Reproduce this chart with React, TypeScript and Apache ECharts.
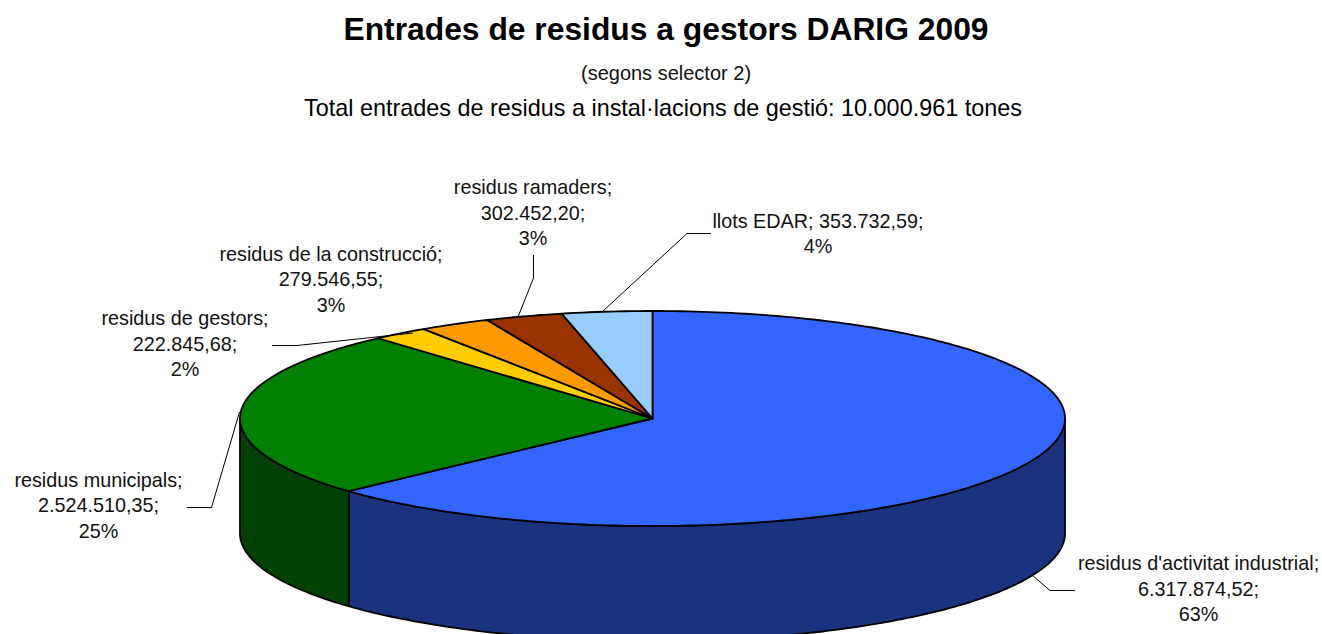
import React, { useEffect, useRef } from "react";
import * as echarts from "echarts";

const categories = [
  "residus d'activitat industrial",
  "residus municipals",
  "residus de gestors",
  "residus de la construcció",
  "residus ramaders",
  "llots EDAR",
];
const values = [6317874.52, 2524510.35, 222845.68, 279546.55, 302452.2, 353732.59];
const valueLabels = ["6.317.874,52", "2.524.510,35", "222.845,68", "279.546,55", "302.452,20", "353.732,59"];
const percentLabels = ["63%", "25%", "2%", "3%", "3%", "4%"];
const topColors = ["#3366FF", "#008000", "#FFCC00", "#FF9900", "#993300", "#99CCFF"];
const sideColors = ["#1A337F", "#004000", "#7F6600", "#7F4C00", "#4C1900", "#4C667F"];

const titleText = "Entrades de residus a gestors DARIG 2009";
const subtitleText = "(segons selector 2)";
const totalText = "Total entrades de residus a instal·lacions de gestió: 10.000.961 tones";

// Layout (not data)
const CX = 652.5;
const CY = 418.5;
const RX = 412.5;
const RY = 107.5;
const DEPTH = 115;
const FONT = '"Liberation Sans", Arial, sans-serif';

const labelCenters = [
  [1198.5, 588.5],
  [98.5, 505],
  [185, 343.5],
  [331, 279],
  [533, 212.5],
  [818, 233.5],
];
const leaders = [
  [[1032, 575], [1050, 590.5], [1075, 590.5]],
  [[239.5, 412], [211.5, 507.5], [187, 507.5]],
  [[413, 333], [297, 345.5], [272, 345.5]],
  null,
  [[518, 317], [533.5, 278], [533.5, 255]],
  [[603, 311], [687, 233.5], [711, 233.5]],
];

const total = values.reduce((a, b) => a + b, 0);
function range(i: number): [number, number] {
  let s = 0;
  for (let k = 0; k < i; k++) s += values[k];
  return [(s / total) * 360, ((s + values[i]) / total) * 360];
}
function pt(deg: number, dy = 0): number[] {
  const t = (deg * Math.PI) / 180;
  return [CX + RX * Math.sin(t), CY - RY * Math.cos(t) + dy];
}
function arc(a: number, b: number, dy = 0): number[][] {
  const out: number[][] = [];
  const n = Math.max(2, Math.ceil(Math.abs(b - a)));
  for (let i = 0; i <= n; i++) out.push(pt(a + ((b - a) * i) / n, dy));
  return out;
}

const edge = { stroke: "#000", lineWidth: 1.8, lineJoin: "round" };

export default function App() {
  const ref = useRef<HTMLDivElement>(null);
  useEffect(() => {
    const chart = echarts.init(ref.current!, undefined, { renderer: "svg" });
    const data = values.map((v, i) => ({ name: categories[i], value: v }));
    const labelGraphics: any[] = [];
    categories.forEach((c, i) => {
      const text =
        i === 5
          ? `${c}; ${valueLabels[i]};\n${percentLabels[i]}`
          : `${c};\n${valueLabels[i]};\n${percentLabels[i]}`;
      labelGraphics.push({
        type: "text",
        x: labelCenters[i][0],
        y: labelCenters[i][1],
        style: {
          text,
          fill: "#111",
          font: `19.8px ${FONT}`,
          lineHeight: 25.5,
          align: "center",
          verticalAlign: "middle",
        },
        z: 10,
      });
      const l = leaders[i];
      if (l) {
        labelGraphics.push({
          type: "polyline",
          shape: { points: l },
          style: { stroke: "#000", lineWidth: 1, fill: "none" },
          z: 9,
        });
      }
    });
    chart.setOption({
      animation: false,
      backgroundColor: "#fff",
      title: [
        { text: titleText, left: 661, top: 8, textAlign: "center",
          textStyle: { fontFamily: FONT, fontSize: 31.8, fontWeight: "bold", color: "#000" } },
        { text: subtitleText, left: 661, top: 58, textAlign: "center",
          textStyle: { fontFamily: FONT, fontSize: 20, fontWeight: "normal", color: "#111" } },
        { text: totalText, left: 658, top: 91.5, textAlign: "center",
          textStyle: { fontFamily: FONT, fontSize: 23.4, fontWeight: "normal", color: "#000" } },
      ],
      series: [
        {
          type: "custom",
          name: "sides",
          coordinateSystem: "none",
          silent: true,
          clip: false,
          z: 1,
          data,
          renderItem: (params: any) => {
            const i = params.dataIndex;
            const [a, b] = range(i);
            const s = Math.max(a, 90);
            const e = Math.min(b, 270);
            if (e <= s) return { type: "group", children: [] };
            const points = [...arc(s, e), ...arc(e, s, DEPTH)];
            return {
              type: "polygon",
              shape: { points },
              style: { fill: sideColors[i], ...edge },
            };
          },
        },
        {
          type: "custom",
          name: "tops",
          coordinateSystem: "none",
          silent: true,
          clip: false,
          z: 2,
          data,
          renderItem: (params: any) => {
            const i = params.dataIndex;
            const [a, b] = range(i);
            const points = [[CX, CY], ...arc(a, b)];
            return {
              type: "polygon",
              shape: { points },
              style: { fill: topColors[i], ...edge },
            };
          },
        },
      ],
      graphic: labelGraphics,
    });
    return () => chart.dispose();
  }, []);
  return (
    <div
      ref={ref}
      style={{ position: "fixed", left: 0, top: 0, width: 1322, height: 634, background: "#fff" }}
    />
  );
}
